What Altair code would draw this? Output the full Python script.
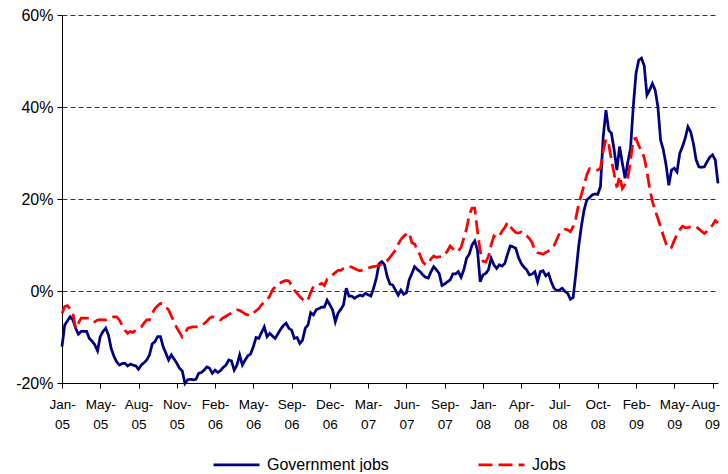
import altair as alt
import pandas as pd

# Tick labels (every 14th weekly observation)
tick_months = ["Jan", "May", "Aug", "Nov", "Feb", "May", "Sep", "Dec", "Mar",
               "Jun", "Sep", "Jan", "Apr", "Jul", "Oct", "Feb", "May", "Aug"]
tick_years = ["05", "05", "05", "05", "06", "06", "06", "06", "07",
              "07", "07", "08", "08", "08", "08", "09", "09", "09"]
tick_step = 14

# Weekly year-on-year change, %
gov_jobs = [
    -12.1, -7.4, -6.5, -5.6, -6.3, -8.1, -9.4, -8.8, -8.8, -8.8,
    -10.3, -10.9, -11.7, -13.0, -9.9, -8.8, -8.1, -9.6, -12.5, -14.2,
    -15.4, -16.1, -15.8, -15.7, -16.3, -15.9, -16.1, -16.3, -17.0, -16.1,
    -15.6, -15.0, -13.9, -11.5, -11.0, -9.9, -9.9, -12.1, -13.5, -15.0,
    -13.9, -14.8, -15.7, -16.8, -17.4, -20.1, -19.3, -19.2, -19.3, -19.2,
    -17.9, -17.7, -17.2, -16.5, -16.8, -17.9, -17.2, -17.7, -17.3, -16.6,
    -16.1, -15.0, -15.2, -17.2, -16.1, -13.9, -16.1, -15.0, -14.1, -13.7,
    -12.1, -10.1, -10.3, -9.0, -7.8, -9.9, -9.2, -9.8, -10.3, -9.3,
    -8.3, -7.5, -7.0, -8.1, -8.5, -10.3, -10.1, -11.4, -10.7, -8.1,
    -7.4, -4.7, -5.2, -4.1, -3.8, -3.5, -3.5, -2.0, -3.0, -4.1,
    -6.7, -4.8, -4.0, -3.0, 0.6, -1.1, -1.1, -1.6, -1.2, -0.9,
    -1.1, -0.5, -0.8, -1.1, 0.6, 2.8, 5.9, 6.4, 5.7, 3.1,
    1.5, 1.3, 0.2, -0.9, 0.2, -0.7, -0.4, 2.4, 3.8, 5.3,
    4.7, 4.2, 3.5, 3.0, 2.8, 4.2, 5.3, 4.6, 3.8, 1.2,
    1.5, 2.0, 2.4, 3.7, 3.7, 4.2, 3.0, 4.6, 7.1, 8.0,
    10.0, 10.9, 8.9, 2.0, 3.5, 3.8, 4.6, 7.1, 5.7, 4.9,
    5.7, 5.4, 6.0, 8.0, 9.8, 9.6, 9.3, 7.3, 6.0, 5.2,
    4.6, 3.5, 3.7, 4.2, 2.0, 4.2, 4.4, 3.3, 3.8, 2.0,
    0.6, 0.1, 0.2, 0.6, -0.1, -0.5, -1.8, -1.4, 3.8, 9.6,
    14.0, 17.6, 19.8, 20.3, 20.9, 21.1, 21.0, 22.7, 33.5, 39.3,
    35.0, 34.3, 30.7, 26.3, 31.4, 27.8, 24.5, 28.0, 31.0, 40.1,
    47.3, 50.2, 50.6, 49.0, 42.6, 43.7, 45.1, 43.7, 40.1, 32.8,
    30.7, 27.4, 23.0, 26.3, 26.7, 25.9, 29.9, 31.4, 33.2, 35.7,
    34.6, 32.1, 28.5, 27.0, 26.9, 27.0, 28.1, 29.1, 29.6, 28.5,
    23.4,
]

jobs = [
    -4.9, -3.4, -3.2, -3.9, -4.9, -8.1, -7.0, -5.9, -5.9, -5.9,
    -5.9, -6.2, -6.7, -6.3, -6.2, -6.3, -6.3, -5.9, -5.8, -5.6,
    -5.6, -6.3, -7.5, -8.5, -9.2, -8.8, -9.0, -8.5, -8.1, -7.8,
    -7.0, -6.3, -6.3, -4.9, -3.8, -3.2, -2.7, -2.8, -3.5, -4.1,
    -5.4, -6.7, -8.0, -9.0, -10.0, -9.2, -8.1, -7.9, -7.8, -7.8,
    -7.8, -7.4, -7.1, -6.6, -5.9, -5.6, -5.8, -6.1, -6.3, -5.8,
    -5.5, -5.1, -4.8, -4.3, -4.1, -4.2, -4.6, -5.0, -5.2, -5.4,
    -4.8, -4.3, -3.8, -3.0, -2.5, -2.0, -1.1, 0.2, 0.9, 1.4,
    1.8, 2.1, 2.3, 2.2, 1.2, 0.2, -0.5, -1.2, -1.8, -2.3,
    -1.9, -0.3, 1.0, 1.2, 1.3, 1.7, 1.2, 2.6, 3.1, 3.5,
    4.0, 4.5, 4.5, 4.9, 5.2, 5.3, 5.2, 4.9, 4.6, 4.4,
    4.6, 4.8, 5.0, 5.2, 5.3, 5.4, 5.6, 5.8, 6.2, 6.6,
    7.3, 8.1, 8.9, 10.2, 11.2, 11.9, 12.4, 12.7, 10.5, 10.2,
    9.0, 7.8, 6.3, 5.7, 6.0, 7.0, 7.6, 7.3, 7.4, 7.5,
    7.8, 8.7, 9.8, 9.2, 8.5, 8.7, 9.5, 11.5, 13.5, 16.5,
    18.0, 18.0, 13.0, 8.7, 6.5, 6.3, 7.5, 10.0, 12.0, 11.5,
    12.0, 13.0, 13.8, 14.9, 14.0, 13.3, 12.7, 12.6, 12.8, 12.2,
    12.0, 11.4, 10.5, 8.8, 8.3, 8.2, 8.0, 8.4, 8.7, 9.0,
    9.8, 11.2, 12.5, 13.0, 13.4, 13.3, 12.9, 14.0, 15.8, 18.8,
    20.9, 23.0, 25.3, 26.6, 26.5, 26.3, 26.3, 26.7, 30.5, 33.0,
    32.0, 28.5, 25.5, 22.5, 25.0, 22.3, 23.2, 24.5, 28.3, 33.0,
    33.2, 31.6, 30.5, 29.0, 26.0, 22.3, 19.5, 17.5, 15.8, 14.0,
    12.0, 10.3, 9.2, 9.5, 11.0, 12.3, 13.3, 14.1, 13.8, 13.8,
    14.0, 14.1, 14.0, 13.5, 13.0, 12.5, 13.0, 13.8, 14.3, 15.3,
    14.8,
]

series_names = ["Government jobs", "Jobs"]
series_colors = ["#000080", "#FF0000"]

n = len(gov_jobs)
df = pd.DataFrame({
    "week": list(range(n)) + list(range(len(jobs))),
    "value": gov_jobs + jobs,
    "series": [series_names[0]] * n + [series_names[1]] * len(jobs),
})

tick_values = [i * tick_step for i in range(len(tick_months))]
last_tick = tick_values[-1]
months_js = "[" + ",".join("'%s'" % m for m in tick_months) + "]"
years_js = "[" + ",".join("'%s'" % y for y in tick_years) + "]"
idx = "round(datum.value/%d)" % tick_step
x_label_expr = "[%s[%s] + '-', %s[%s]]" % (months_js, idx, years_js, idx)

FONT = "Liberation Sans"

legend = alt.Legend(
    title=None,
    orient="none",
    legendX=150,
    legendY=425,
    direction="horizontal",
    symbolType="stroke",
    symbolSize=2116,
    symbolStrokeWidth=2.75,
    labelFontSize=16,
    labelFont=FONT,
    labelColor="black",
    labelOffset=6,
    columnPadding=84,
)

chart = alt.Chart(df).mark_line(strokeWidth=2.75).encode(
    x=alt.X(
        "week:Q",
        scale=alt.Scale(domain=[0, n - 1], nice=False, zero=False),
        axis=alt.Axis(
            title=None, values=tick_values, labelExpr=x_label_expr,
            grid=False, tickSize=5, tickColor="black", domainColor="black",
            labelFont=FONT, labelFontSize=13.5, labelColor="black",
            labelAngle=0, labelLineHeight=20, labelPadding=9,
            labelOverlap=False, labelFlush=False,
            labelAlign={"condition": {"test": "datum.value >= %d" % last_tick,
                                      "value": "right"}, "value": "center"},
            labelOffset={"condition": {"test": "datum.value >= %d" % last_tick,
                                       "value": 7}, "value": 0},
        ),
    ),
    y=alt.Y(
        "value:Q",
        scale=alt.Scale(domain=[-20, 60], nice=False),
        axis=alt.Axis(
            title=None, values=[-20, 0, 20, 40, 60],
            labelExpr="datum.value + '%'",
            grid=True, gridDash=[5, 3], gridColor="#333333", gridWidth=1,
            tickSize=5, tickColor="black", domainColor="black",
            labelFont=FONT, labelFontSize=16, labelColor="black",
            labelPadding=4,
        ),
    ),
    color=alt.Color(
        "series:N",
        scale=alt.Scale(domain=series_names, range=series_colors),
        legend=legend,
    ),
    strokeDash=alt.StrokeDash(
        "series:N",
        scale=alt.Scale(domain=series_names, range=[[1, 0], [14, 6]]),
        legend=legend,
    ),
).properties(
    width=656,
    height=368,
    padding={"left": 54, "top": 7, "right": 2, "bottom": 89},
    autosize=alt.AutoSizeParams(type="none"),
    background="white",
).configure_view(stroke=None)

chart.save("out.html", embed_options={"renderer": "svg", "actions": False})
